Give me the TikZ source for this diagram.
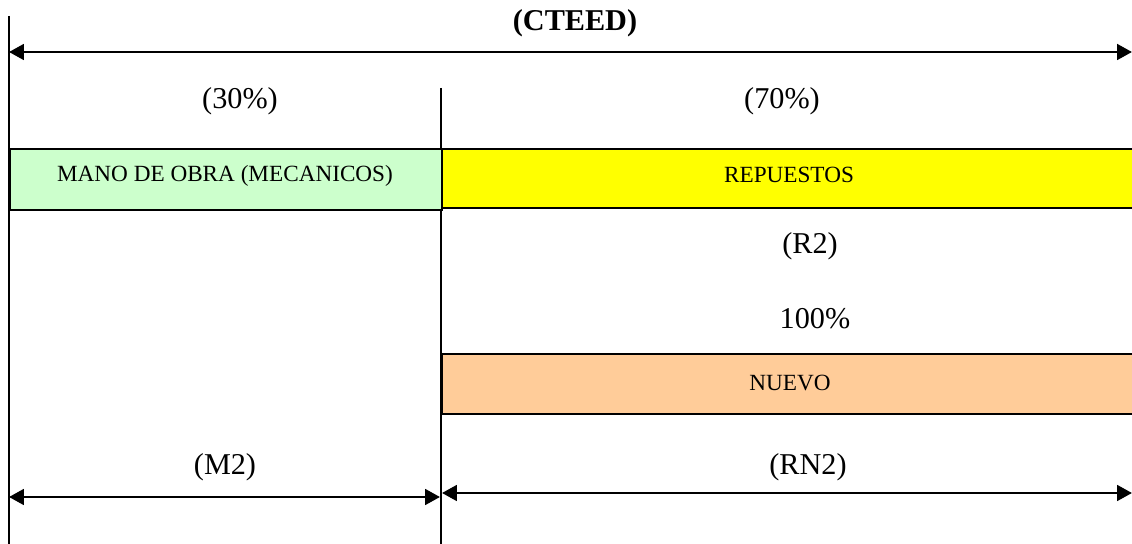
\documentclass[tikz,border=0pt]{standalone}
\usepackage{fontspec}
\setmainfont{Liberation Serif}
\usetikzlibrary{arrows.meta}
\definecolor{verdeclaro}{RGB}{204,255,204}
\definecolor{amarillo}{RGB}{255,255,0}
\definecolor{naranja}{RGB}{255,204,153}

\begin{document}
\begin{tikzpicture}[x=0.025cm, y=-0.025cm, line width=1.4pt,
    >={Triangle[length=10.5pt,width=11pt]},
    caja/.style={draw, line width=1.4pt, inner sep=0pt, anchor=north west},
    chico/.style={font=\fontsize{16.5}{19}\selectfont},
    grande/.style={font=\fontsize{21.5}{25}\selectfont}]
    \useasboundingbox (0,0) rectangle (1132,544);
    % lineas verticales
    \coordinate (izqA) at (9,16);
    \coordinate (izqB) at (9,544);
    \coordinate (medA) at (441,88);
    \coordinate (medB) at (441,544);
    \draw (izqA) -- (izqB);
    \draw (medA) -- (medB);
    % costo total
    \node[font=\fontsize{21.5}{25}\selectfont\bfseries] (cteed) at (575,23) {(CTEED)};
    \coordinate (totI) at (9,52);
    \coordinate (totD) at (1132,52);
    \draw[<->,line width=2pt] (totI) -- (totD);
    \node[grande] (pmano) at (240,101) {(30\%)};
    \node[grande] (prep) at (782,101) {(70\%)};
    % cajas
    \node[caja,fill=verdeclaro,minimum width=10.8cm,minimum height=1.525cm] (mano) at (9,148) {};
    \node[chico] (manotxt) at (225,176) {MANO DE OBRA (MECANICOS)};
    \node[caja,fill=amarillo,minimum width=17.5cm,minimum height=1.475cm] (rep) at (441,148) {};
    \node[chico] (reptxt) at (789,175) {REPUESTOS};
    \node[grande] (r2) at (810,246) {(R2)};
    \node[grande] (cien) at (815,319) {100\%};
    \node[caja,fill=naranja,minimum width=17.5cm,minimum height=1.5cm] (nuevo) at (441,353) {};
    \node[chico] (nuevotxt) at (790,383) {NUEVO};
    % cotas inferiores
    \node[grande] (m2) at (225,467) {(M2)};
    \node[grande] (rn2) at (808,467) {(RN2)};
    \coordinate (mI) at (9,497);
    \coordinate (mD) at (440,497);
    \coordinate (rI) at (442,493);
    \coordinate (rD) at (1132,493);
    \draw[<->,line width=2pt] (mI) -- (mD);
    \draw[<->,line width=2pt] (rI) -- (rD);
\end{tikzpicture}
\end{document}
